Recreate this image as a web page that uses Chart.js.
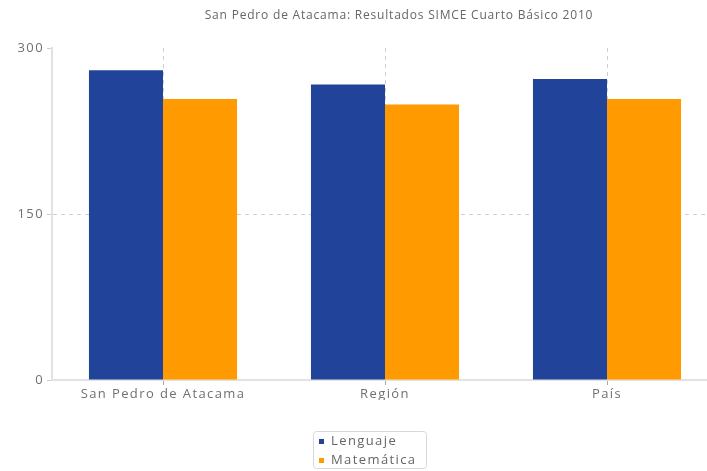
<!DOCTYPE html>
<html>
<head>
<meta charset="utf-8">
<script src="https://cdn.jsdelivr.net/npm/chart.js@4"></script>
<style>
  html, body { margin: 0; padding: 0; background: #fff; }
  #wrap { width: 707px; height: 471px; overflow: hidden; position: relative; }
  canvas { display: block; }
</style>
</head>
<body>
<div id="wrap"><canvas id="c" width="720" height="471"></canvas></div>
<script>
const titleText = "San Pedro de Atacama: Resultados SIMCE Cuarto Básico 2010";
const categories = ["San Pedro de Atacama", "Región", "País"];
const seriesNames = ["Lenguaje", "Matemática"];
const lenguaje = [280, 267, 272];
const matematica = [254, 249, 254];
const yTicks = [0, 150, 300];

const colors = ["#21449a", "#ff9a00"];
const FONT = "'Open Sans', sans-serif";

const customText = {
  id: 'customText',
  beforeDraw(chart) {
    chart.ctx.letterSpacing = '1.4px';
  },
  afterDraw(chart) {
    const ctx = chart.ctx;
    ctx.save();
    // title
    ctx.letterSpacing = '0.8px';
    ctx.font = "12px " + FONT;
    ctx.fillStyle = "#666666";
    ctx.textAlign = "center";
    ctx.textBaseline = "middle";
    ctx.fillText(titleText, 399, 16);
    // legend
    const x0 = 313, y0 = 431, w = 113, h = 37;
    ctx.strokeStyle = "#d8d8d8";
    ctx.lineWidth = 1;
    ctx.beginPath();
    ctx.roundRect(x0 + 0.5, y0 + 0.5, w, h, 3);
    ctx.stroke();
    ctx.letterSpacing = '1.4px';
    ctx.font = "13px " + FONT;
    ctx.textAlign = "left";
    chart.data.datasets.forEach((ds, i) => {
      const cy = y0 + 10 + i * 19;
      ctx.fillStyle = ds.backgroundColor;
      ctx.fillRect(x0 + 6, cy - 2, 5, 5);
      ctx.fillStyle = "#666666";
      ctx.fillText(ds.label, x0 + 18, cy);
    });
    ctx.restore();
    ctx.letterSpacing = '0px';
  }
};

new Chart(document.getElementById('c'), {
  type: 'bar',
  data: {
    labels: categories,
    datasets: [
      { label: seriesNames[0], data: lenguaje, backgroundColor: colors[0] },
      { label: seriesNames[1], data: matematica, backgroundColor: colors[1] }
    ]
  },
  options: {
    responsive: false,
    animation: false,
    devicePixelRatio: 1,
    layout: { padding: { top: 48, left: 0, right: 2, bottom: 71 } },
    datasets: { bar: { categoryPercentage: 0.667, barPercentage: 1.0 } },
    plugins: { legend: { display: false }, title: { display: false }, tooltip: { enabled: false } },
    scales: {
      x: {
        offset: true,
        grid: {
          offset: false,
          color: '#cfcfcf',
          tickColor: '#aaaaaa',
          tickLength: 5,
          tickBorderDash: [],
          drawTicks: true
        },
        border: { display: true, color: '#e2e2e2', width: 2, dash: [4, 4] },
        ticks: { color: '#707070', font: { family: FONT, size: 13 }, padding: 1, maxRotation: 0 },
        afterFit: s => { s.height = 20; }
      },
      y: {
        min: 0, max: 300,
        afterBuildTicks: s => { s.ticks = yTicks.map(v => ({ value: v })); },
        grid: {
          color: ctx => (ctx.tick && ctx.tick.value === 150) ? '#cfcfcf' : 'rgba(0,0,0,0)',
          tickColor: '#cccccc',
          tickLength: 5,
          tickBorderDash: []
        },
        border: { display: true, color: '#e2e2e2', width: 2, dash: [4, 4] },
        ticks: { color: '#707070', font: { family: FONT, size: 13 }, padding: 3 },
        afterFit: s => { s.width = 52; }
      }
    }
  },
  plugins: [customText]
});
</script>
</body>
</html>
